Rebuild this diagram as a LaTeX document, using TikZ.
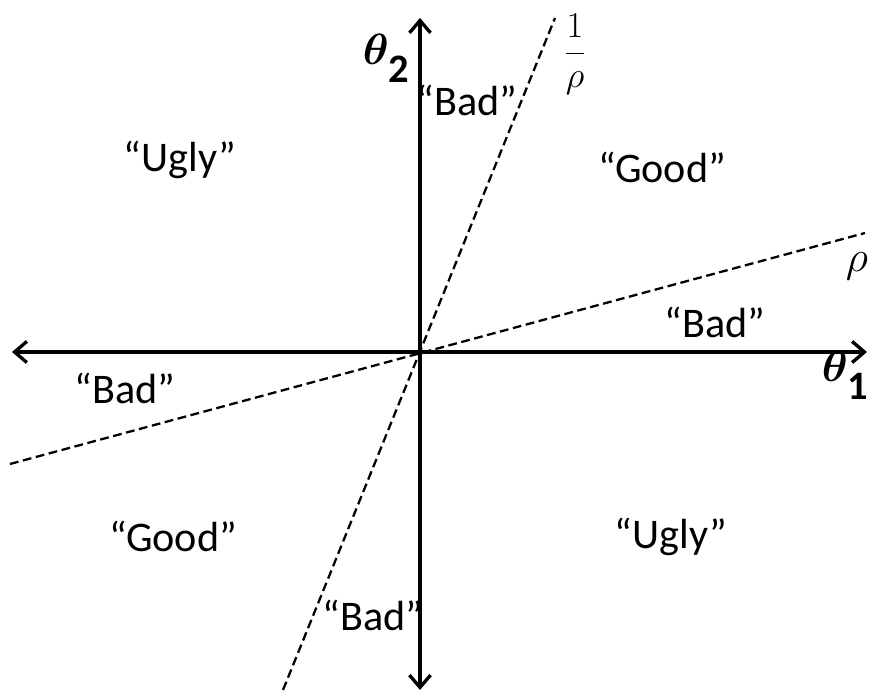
\documentclass[tikz,border=0pt]{standalone}
\usepackage{fontspec}
\setmainfont{Carlito}
\usepackage{amsmath,bm}
\usepackage{tikz}
\usetikzlibrary{arrows.meta}
\definecolor{inkmain}{HTML}{000000}

\begin{document}
\begin{tikzpicture}

% Canvas
\useasboundingbox (-8.4, -6.8) rectangle (9.06, 7.04);

\tikzset{
  axisline/.style={inkmain, line width=1.9pt, {Straight Barb[length=7pt,width=12pt,line width=1.9pt]}-{Straight Barb[length=7pt,width=12pt,line width=1.9pt]}},
  ratioline/.style={inkmain, line width=1.3pt, dash pattern=on 5pt off 2.6pt},
  region/.style={font=\fontsize{24}{28}\selectfont\color{inkmain}, inner sep=0pt},
  axislabel/.style={font=\fontsize{36}{42}\selectfont\color{inkmain}, inner sep=0pt}
}

% Axis end points
\coordinate (west) at (-8.16, 0);
\coordinate (east) at (8.94, 0);
\coordinate (north) at (0, 6.68);
\coordinate (south) at (0, -6.76);

% Ratio line end points
\coordinate (invtop) at (2.7, 6.68);
\coordinate (invbot) at (-2.74, -6.76);
\coordinate (rholeft) at (-8.2, -2.24);
\coordinate (rhoright) at (8.9, 2.38);

% Dashed lines
\draw[ratioline] (invbot) -- (invtop);
\draw[ratioline] (rholeft) -- (rhoright);

% Axes
\draw[axisline] (west) -- (east);
\draw[axisline] (south) -- (north);

% Axis labels
\node[axislabel] (thetatwo) at (-0.68, 5.88) {$\bm{\theta}$\raisebox{-0.28em}{\fontsize{23}{27}\selectfont\bfseries 2}};
\node[axislabel] (thetaone) at (8.5, -0.46) {$\bm{\theta}$\raisebox{-0.28em}{\fontsize{23}{27}\selectfont\bfseries 1}};

% Ratio labels
\node[font=\fontsize{21}{25}\selectfont, inner sep=0pt] (invrho) at (3.1, 5.95) {$\dfrac{1}{\rho}$};
\node[font=\fontsize{27}{31}\selectfont, inner sep=0pt] (rho) at (8.74, 1.72) {$\rho$};

% Regions
\node[region] (badtop) at (0.94, 5.04) {``Bad''};
\node[region] (uglyul) at (-4.8, 3.84) {``Ugly''};
\node[region] (goodur) at (4.84, 3.7) {``Good''};
\node[region] (badright) at (5.9, 0.6) {``Bad''};
\node[region] (badleft) at (-5.9, -0.72) {``Bad''};
\node[region] (goodll) at (-4.94, -3.68) {``Good''};
\node[region] (uglylr) at (5.02, -3.7) {``Ugly''};
\node[region] (badbot) at (-0.94, -5.26) {``Bad''};

\end{tikzpicture}
\end{document}
